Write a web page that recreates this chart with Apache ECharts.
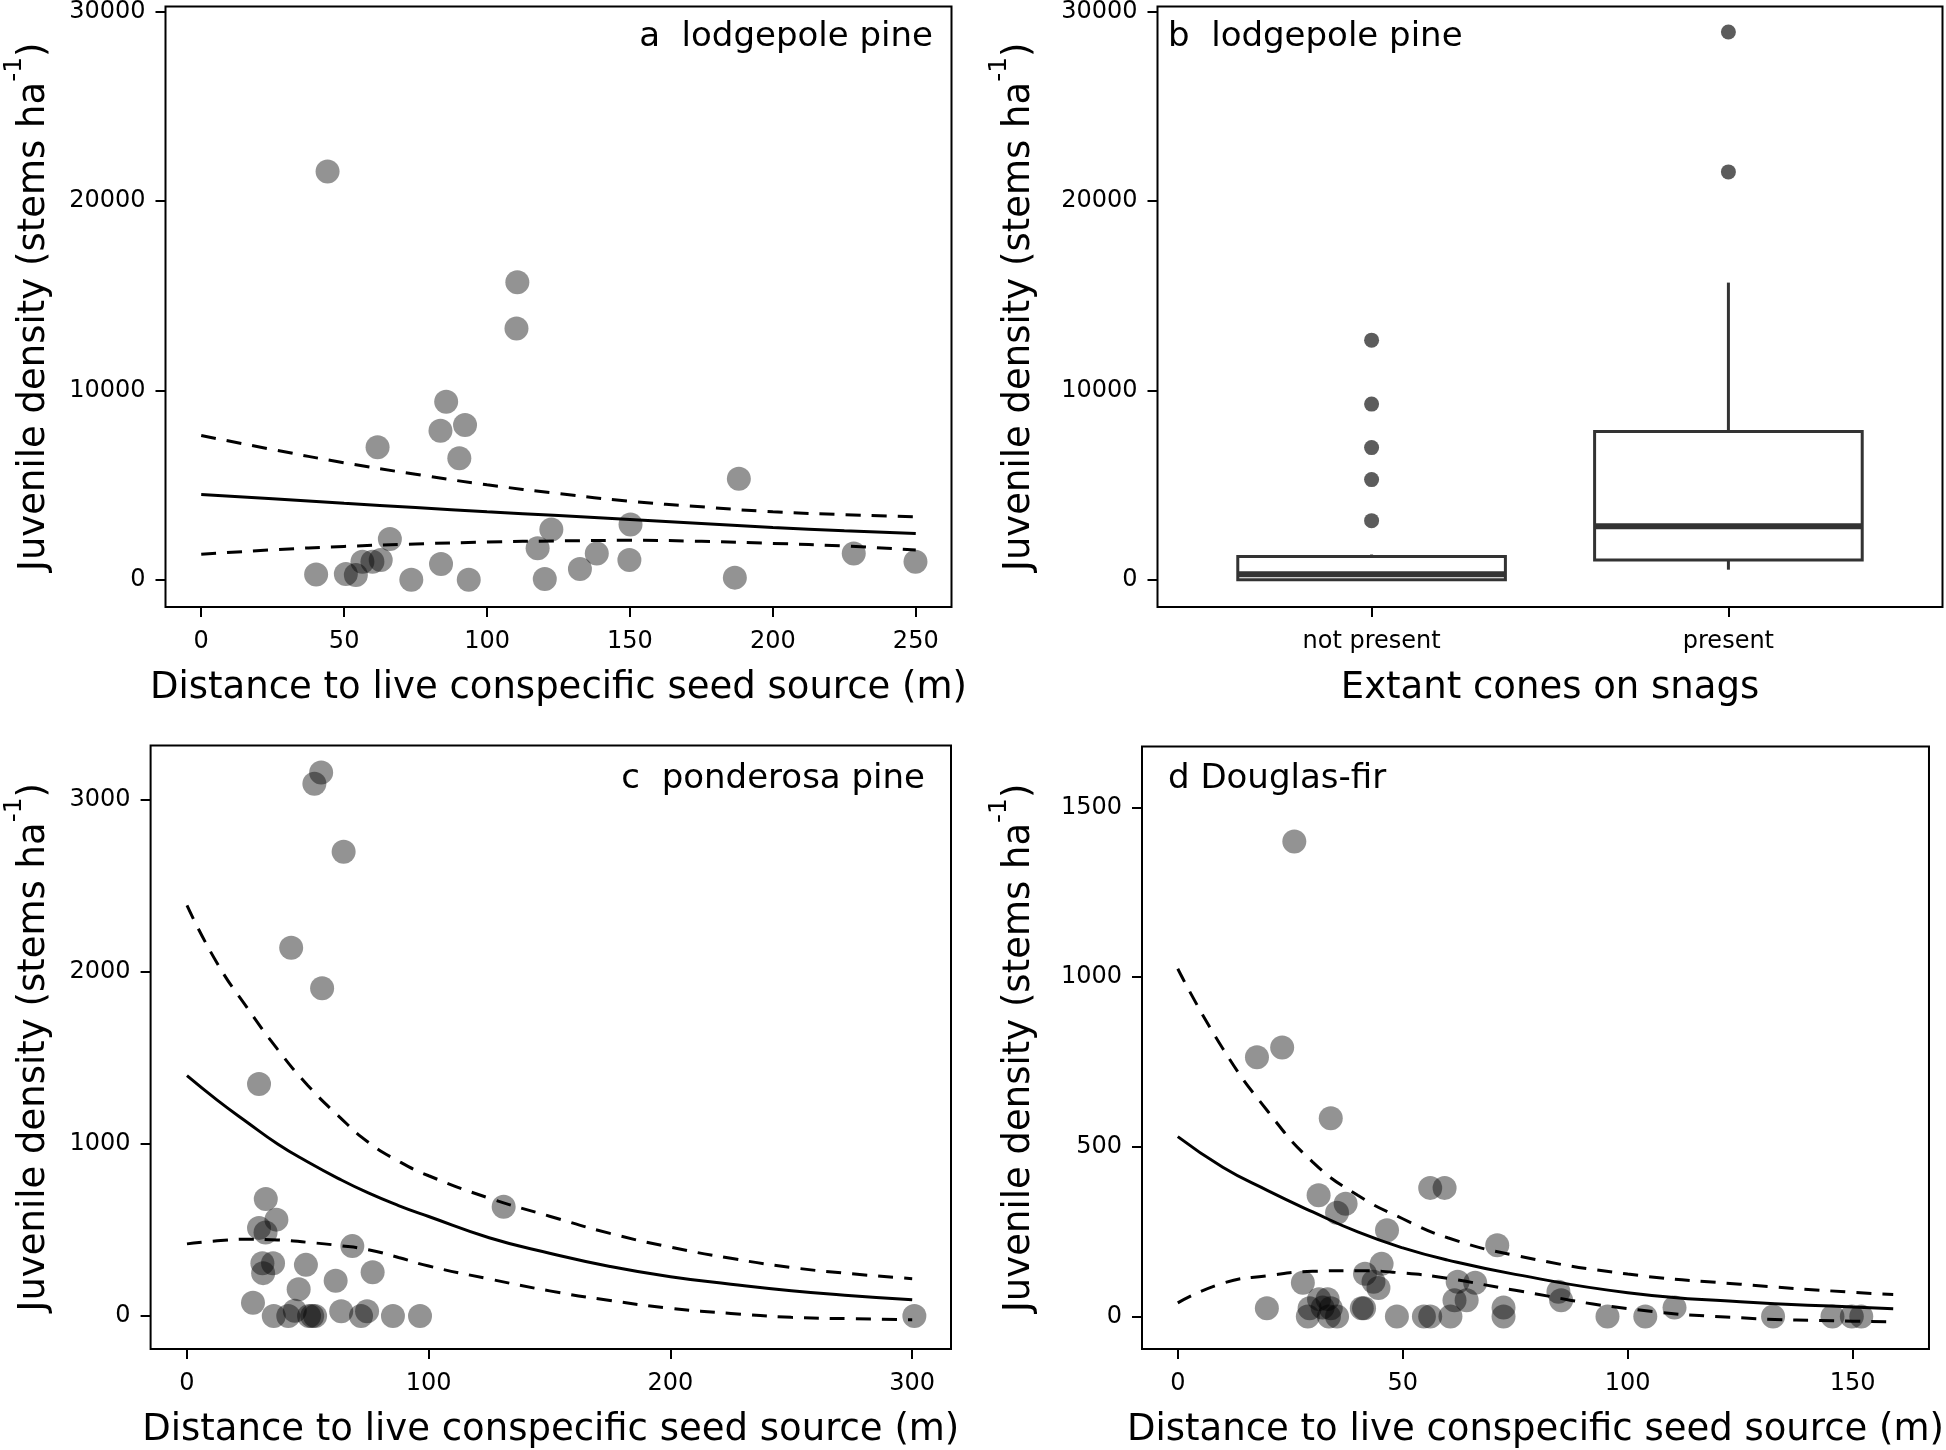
<!DOCTYPE html>
<html><head><meta charset="utf-8">
<script src="https://cdn.jsdelivr.net/npm/echarts@6/dist/echarts.min.js"></script>
<style>html,body{margin:0;padding:0;background:#fff}#c{width:1946px;height:1450px}</style>
</head><body><div id="c"></div>
<script>
// ---------- Panel a: lodgepole pine, density vs distance ----------
const aDistance = [44.2,110.6,110.3,85.7,83.7,92.3,90.3,61.7,188.1,150.2,122.5,66.0,117.7,138.4,228.3,149.8,249.9,83.9,132.5,40.2,50.6,54.1,56.4,59.9,62.8,73.5,93.6,120.2,186.7];
const aDensity  = [21570,15720,13270,9400,7870,8180,6420,7000,5340,2920,2650,2150,1660,1390,1380,1040,950,830,570,280,300,250,950,950,1040,0,0,40,110];
const aCurveX = [0,25,50,75,100,125,150,175,200,225,250];
const aFit    = [4500,4280,4040,3810,3590,3390,3180,2970,2760,2590,2440];
const aUpper  = [7620,6880,6180,5570,5020,4550,4150,3850,3590,3440,3320];
const aLower  = [1340,1580,1760,1890,1990,2050,2080,2030,1920,1780,1570];
const abTicks = [0,10000,20000,30000];
const aXTicks = [0,50,100,150,200,250];

// ---------- Panel b: boxplot by cone presence ----------
const bCategories   = ['not present','present'];
const bLowerWhisker = [0,530];
const bQ1           = [0,1040];
const bMedian       = [290,2830];
const bQ3           = [1230,7830];
const bUpperWhisker = [1330,15700];
const bOutNotPresent = [12660,9280,6980,5290,3120];
const bOutPresent    = [28940,21550];

// ---------- Panel c: ponderosa pine ----------
const cDistance = [55.5,52.7,64.8,43.1,55.9,29.8,131.0,32.6,37.0,29.8,32.5,68.4,31.2,35.6,49.2,31.5,76.8,61.5,46.2,27.3,35.9,41.9,44.6,50.5,51.8,53.0,63.8,72.0,74.5,85.2,96.4,300.9];
const cDensity  = [3159,3094,2699,2140,1905,1349,635,680,560,512,485,406,307,307,297,249,254,205,155,77,0,0,30,0,0,0,27,0,27,0,0,0];
const cCurveX = [0,12.5,25,37.5,50,62.5,75,87.5,100,125,150,175,200,225,250,275,300];
const cFit    = [1397,1255,1125,1000,895,800,715,642,578,455,365,288,228,185,147,118,94];
const cUpper  = [2386,2050,1790,1550,1340,1165,1010,900,815,685,580,480,400,335,282,245,217];
const cLower  = [419,437,446,442,428,410,385,340,290,215,146,90,45,15,-8,-16,-22];
const cYTicks = [0,1000,2000,3000];
const cXTicks = [0,100,200,300];

// ---------- Panel d: Douglas-fir ----------
const dDistance = [25.9,23.2,17.6,34.0,56.1,59.3,31.3,37.3,35.4,46.5,71.0,45.3,41.6,43.5,44.6,27.8,62.2,66.1,84.6,85.2,61.5,64.2,110.4,19.8,72.4,72.4,95.5,103.9,132.3,145.5,149.8,151.9,48.7,54.7,56.1,60.6,40.9,41.4,31.4,33.3,29.3,32.2,34.0,28.9,33.6,35.4];
const dDensity  = [1400,793,764,584,379,379,357,332,306,254,210,155,126,102,84,99,102,99,73,48,48,48,26,24,26,0,0,0,0,0,0,0,0,0,0,0,24,24,51,51,24,26,24,0,0,0];
const dCurveX = [0,10,20,30,40,50,60,75,100,125,150,159];
const dFit    = [530,440,371,308,249,202,166,124,70,43,28,23];
const dUpper  = [1025,790,605,455,357,288,232,180,125,95,71,65];
const dLower  = [40,98,120,133,135,128,112,77,23,-4,-14,-16];
const dYTicks = [0,500,1000,1500];
const dXTicks = [0,50,100,150];

const FF = '"DejaVu Sans", sans-serif';
const yTitle = '{n|Juvenile density (stems ha}{s|-1}{n|)}';
const xTitle = 'Distance to live conspecific seed source (m)';

function zip(xs, ys){ return xs.map((x,i)=>[x, ys[i]]); }

function axisBase(ticks){
  return {
    axisLine:{show:false, onZero:false},
    axisTick:{show:true, length:10, lineStyle:{color:'#000', width:2}, customValues:ticks},
    axisLabel:{customValues:ticks, fontFamily:FF, fontSize:24, color:'#000', margin:23,
               formatter: v => String(v)},
    splitLine:{show:false}
  };
}
function xAxis(grid, min, max, ticks, name, fmt){
  const a = Object.assign({type:'value', gridIndex:grid, min:min, max:max,
    name:name, nameLocation:'middle', nameGap:63,
    nameTextStyle:{fontFamily:FF, fontSize:37, color:'#000'}}, axisBase(ticks));
  if (fmt) a.axisLabel.formatter = fmt;
  return a;
}
function yAxis(grid, min, max, ticks, gap){
  const a = Object.assign({type:'value', gridIndex:grid, min:min, max:max,
    name:yTitle, nameLocation:'middle', nameGap:gap,
    nameTextStyle:{fontFamily:FF, fontSize:37, color:'#000',
      rich:{n:{fontFamily:FF, fontSize:37, color:'#000'},
            s:{fontFamily:FF, fontSize:25, color:'#000', verticalAlign:'top', padding:[0,0,40,0]}}}}, axisBase(ticks));
  a.axisLabel.margin = 20;
  return a;
}

const ptStyle = {color:'rgba(0,0,0,0.53)'};
function pts(i, xs, ys){
  return {type:'scatter', xAxisIndex:i, yAxisIndex:i, data:zip(xs, ys), symbol:'circle', symbolSize:24, itemStyle:ptStyle, silent:true};
}
function curve(i, xs, ys, dashed){
  return {type:'line', xAxisIndex:i, yAxisIndex:i, data:zip(xs, ys), showSymbol:false, symbol:'none',
    smooth:0.5, silent:true,
    lineStyle:{color:'#000', width:3, type:dashed?[15,11]:'solid'}};
}

const grids = [
  {left:165.5, top:4, width:786, height:603},
  {left:1157.5, top:4, width:785, height:603},
  {left:150.6, top:745.5, width:800.4, height:605.7},
  {left:1142, top:746.6, width:800.4, height:604}
].map(g => Object.assign({show:true, borderColor:'#000', borderWidth:2, backgroundColor:'#fff'}, g));

const boxData = bCategories.map((c,i)=>[i+1, bLowerWhisker[i], bQ1[i], bMedian[i], bQ3[i], bUpperWhisker[i]]);

const option = {
  animation:false,
  backgroundColor:'#fff',
  grid: grids,
  xAxis:[
    xAxis(0, -12.5, 262.5, aXTicks, xTitle),
    xAxis(1, 0.4, 2.6, [1,2], 'Extant cones on snags', v => bCategories[Math.round(v)-1] || ''),
    xAxis(2, -15.05, 316.05, cXTicks, xTitle),
    xAxis(3, -7.95, 166.95, dXTicks, xTitle)
  ],
  yAxis:[
    yAxis(0, -1442, 30292, abTicks, 99),
    yAxis(1, -1442, 30292, abTicks, 106),
    yAxis(2, -192, 3316, cYTicks, 84),
    yAxis(3, -96, 1680, dYTicks, 90)
  ],
  series:[
    pts(0, aDistance, aDensity),
    curve(0, aCurveX, aFit, false),
    curve(0, aCurveX, aUpper, true),
    curve(0, aCurveX, aLower, true),
    {type:'custom', xAxisIndex:1, yAxisIndex:1, silent:true, data:boxData,
     encode:{x:0, y:[1,2,3,4,5]},
     renderItem:function(params, api){
       const x = api.value(0);
       const lo = api.coord([x, api.value(1)]);
       const q1 = api.coord([x, api.value(2)]);
       const md = api.coord([x, api.value(3)]);
       const q3 = api.coord([x, api.value(4)]);
       const hi = api.coord([x, api.value(5)]);
       const hw = api.size([0.75, 0])[0] / 2;
       const cx = q1[0];
       const st = {stroke:'#333', lineWidth:3, fill:null};
       return {type:'group', children:[
         {type:'line', shape:{x1:cx, y1:hi[1], x2:cx, y2:q3[1]}, style:st},
         {type:'line', shape:{x1:cx, y1:q1[1], x2:cx, y2:lo[1]}, style:st},
         {type:'rect', shape:{x:cx-hw, y:q3[1], width:2*hw, height:q1[1]-q3[1]}, style:{stroke:'#333', lineWidth:3, fill:'#fff'}},
         {type:'line', shape:{x1:cx-hw, y1:md[1], x2:cx+hw, y2:md[1]}, style:{stroke:'#333', lineWidth:6}}
       ]};
     }},
    {type:'scatter', xAxisIndex:1, yAxisIndex:1, silent:true, symbolSize:15, itemStyle:{color:'#333'},
     data: bOutNotPresent.map(v=>[1,v]).concat(bOutPresent.map(v=>[2,v]))},
    pts(2, cDistance, cDensity),
    curve(2, cCurveX, cFit, false),
    curve(2, cCurveX, cUpper, true),
    curve(2, cCurveX, cLower, true),
    pts(3, dDistance, dDensity),
    curve(3, dCurveX, dFit, false),
    curve(3, dCurveX, dUpper, true),
    curve(3, dCurveX, dLower, true)
  ],
  graphic:[
    {type:'text', x:933, y:37, silent:true, style:{text:'a  lodgepole pine', fontFamily:FF, fontSize:34, fill:'#000', align:'right', verticalAlign:'middle', textAlign:'right', textVerticalAlign:'middle'}},
    {type:'text', x:1168, y:37, silent:true, style:{text:'b  lodgepole pine', fontFamily:FF, fontSize:34, fill:'#000', align:'left', verticalAlign:'middle', textAlign:'left', textVerticalAlign:'middle'}},
    {type:'text', x:925, y:779, silent:true, style:{text:'c  ponderosa pine', fontFamily:FF, fontSize:34, fill:'#000', align:'right', verticalAlign:'middle', textAlign:'right', textVerticalAlign:'middle'}},
    {type:'text', x:1168, y:779, silent:true, style:{text:'d Douglas-fir', fontFamily:FF, fontSize:34, fill:'#000', align:'left', verticalAlign:'middle', textAlign:'left', textVerticalAlign:'middle'}}
  ]
};

const chart = echarts.init(document.getElementById('c'), null, {renderer:'canvas', width:1946, height:1450});
chart.setOption(option);
</script></body></html>
